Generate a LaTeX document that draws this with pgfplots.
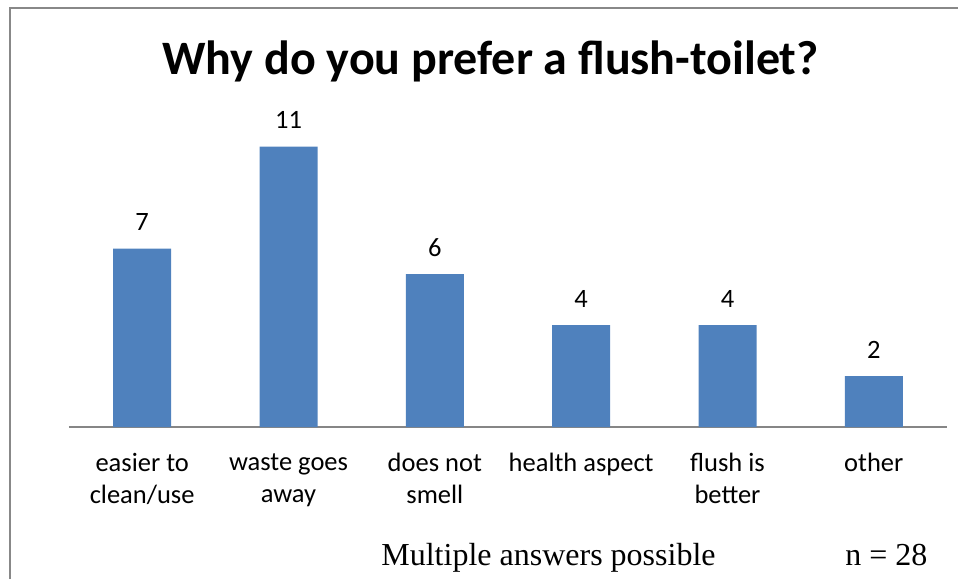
\documentclass[border=0pt]{standalone}
\usepackage{pgfplots}
\pgfplotsset{compat=1.18}
\usepackage{fontspec}
\setmainfont{Carlito}
\newfontfamily\timesfont{Liberation Serif}
\definecolor{barblue}{RGB}{79,129,189}
\definecolor{axgray}{RGB}{134,134,134}
\definecolor{framegray}{RGB}{136,136,136}
\begin{document}
\begin{tikzpicture}
\useasboundingbox (0pt,0pt) rectangle (479pt,289.5pt);
% frame (top and left edges visible)
\draw[framegray, line width=1pt] (5pt,0pt) -- (5pt,285.5pt) -- (480pt,285.5pt);
\begin{axis}[
  at={(34.5pt,76pt)}, anchor=south west,
  scale only axis, width=439pt, height=159.375pt,
  xmin=-0.5, xmax=5.5, ymin=0, ymax=12.5,
  axis x line=bottom, axis y line=none,
  x axis line style={-, axgray, line width=1pt},
  xtick=data, major tick length=0pt,
  xticklabels={{easier to\\clean/use},{waste goes\\away},{does not\\smell},{health aspect},{flush is\\better},{other}},
  xticklabel style={font=\fontsize{13.25pt}{16pt}\selectfont, align=center, anchor=north, inner sep=0pt, yshift=-13pt},
  ytick=\empty,
  /pgf/number format/assume math mode=true,
  ybar, bar width=29pt,
  nodes near coords,
  nodes near coords style={font=\fontsize{13.25pt}{16pt}\selectfont, anchor=base, inner sep=0pt, yshift=9pt, black},
  clip=false,
]
\addplot[fill=barblue, draw=none] coordinates {(0,7) (1,11) (2,6) (3,4) (4,4) (5,2)};
\end{axis}
\node[anchor=base, inner sep=0pt, font=\fontsize{24pt}{28pt}\selectfont\bfseries] at (245.25pt,252pt) {Why do you prefer a flush-toilet?};
\node[anchor=base west, inner sep=0pt, font=\timesfont\fontsize{16pt}{19pt}\selectfont] at (190.5pt,7pt) {Multiple answers possible};
\node[anchor=base west, inner sep=0pt, font=\timesfont\fontsize{16pt}{19pt}\selectfont] at (422.5pt,7pt) {n = 28};
\end{tikzpicture}
\end{document}
